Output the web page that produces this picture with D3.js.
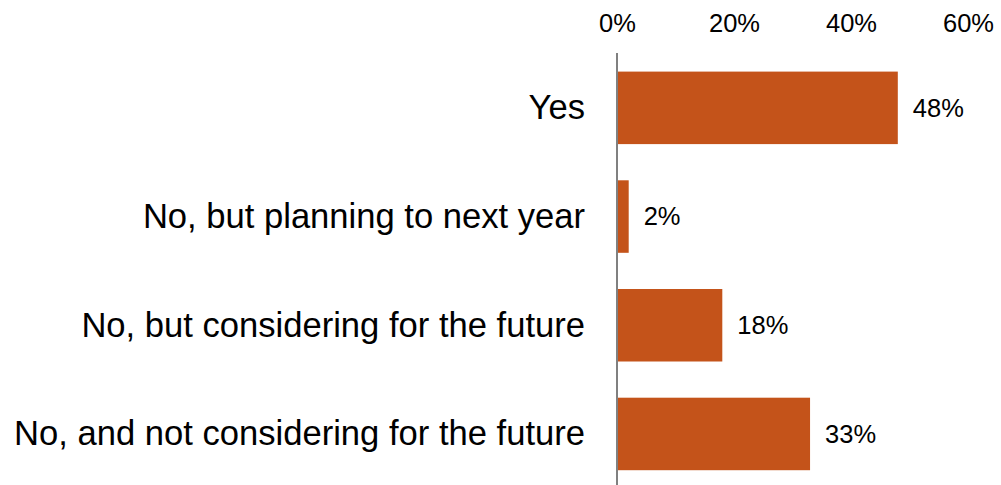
<!DOCTYPE html>
<html>
<head>
<meta charset="utf-8">
<script src="https://cdn.jsdelivr.net/npm/d3@7"></script>
<style>
  html, body { margin: 0; padding: 0; background: #fff; }
  svg { display: block; font-family: "Liberation Sans", Arial, sans-serif; }
</style>
</head>
<body>
<svg id="chart" width="1001" height="485"></svg>
<script>
// Survey answers and their shares (percent)
const categories = [
  "Yes",
  "No, but planning to next year",
  "No, but considering for the future",
  "No, and not considering for the future"
];
const values = [48, 2, 18, 33];
const tickValues = [0, 20, 40, 60];

const svg = d3.select("#chart");
const x0 = 617, x60 = 968;

const x = d3.scaleLinear().domain([0, 60]).range([x0, x60]);
const y = d3.scaleBand()
  .domain(categories)
  .range([53.5, 53.5 + 4 * 108.7])
  .paddingInner(0.333)
  .paddingOuter(0.1665);

const barColor = "#c4531a";

// bars
svg.append("g")
  .selectAll("rect")
  .data(categories)
  .join("rect")
  .attr("x", x(0))
  .attr("y", d => y(d))
  .attr("width", (d, i) => x(values[i]) - x(0))
  .attr("height", y.bandwidth())
  .attr("fill", barColor);

// top axis tick labels
const xAxis = d3.axisTop(x)
  .tickValues(tickValues)
  .tickFormat(d => d + "%")
  .tickSize(0)
  .tickPadding(0);
const gx = svg.append("g")
  .attr("transform", "translate(0,32)")
  .call(xAxis);
gx.select(".domain").remove();
gx.selectAll("text")
  .attr("font-size", 25.5)
  .attr("font-family", "Liberation Sans, Arial, sans-serif")
  .attr("fill", "#000")
  .attr("dy", 0);

// vertical baseline at zero
svg.append("line")
  .attr("x1", x(0)).attr("x2", x(0))
  .attr("y1", 53).attr("y2", 485)
  .attr("stroke", "#808080")
  .attr("stroke-width", 2);

// category labels
svg.append("g")
  .selectAll("text")
  .data(categories)
  .join("text")
  .attr("x", x(0) - 32)
  .attr("y", d => y(d) + y.bandwidth() / 2)
  .attr("dy", "0.33em")
  .attr("text-anchor", "end")
  .attr("font-size", 34.6)
  .attr("fill", "#000")
  .text(d => d);

// value labels
svg.append("g")
  .selectAll("text")
  .data(categories)
  .join("text")
  .attr("x", (d, i) => x(values[i]) + 15)
  .attr("y", d => y(d) + y.bandwidth() / 2)
  .attr("dy", "0.35em")
  .attr("font-size", 25.5)
  .attr("fill", "#000")
  .text((d, i) => values[i] + "%");
</script>
</body>
</html>
